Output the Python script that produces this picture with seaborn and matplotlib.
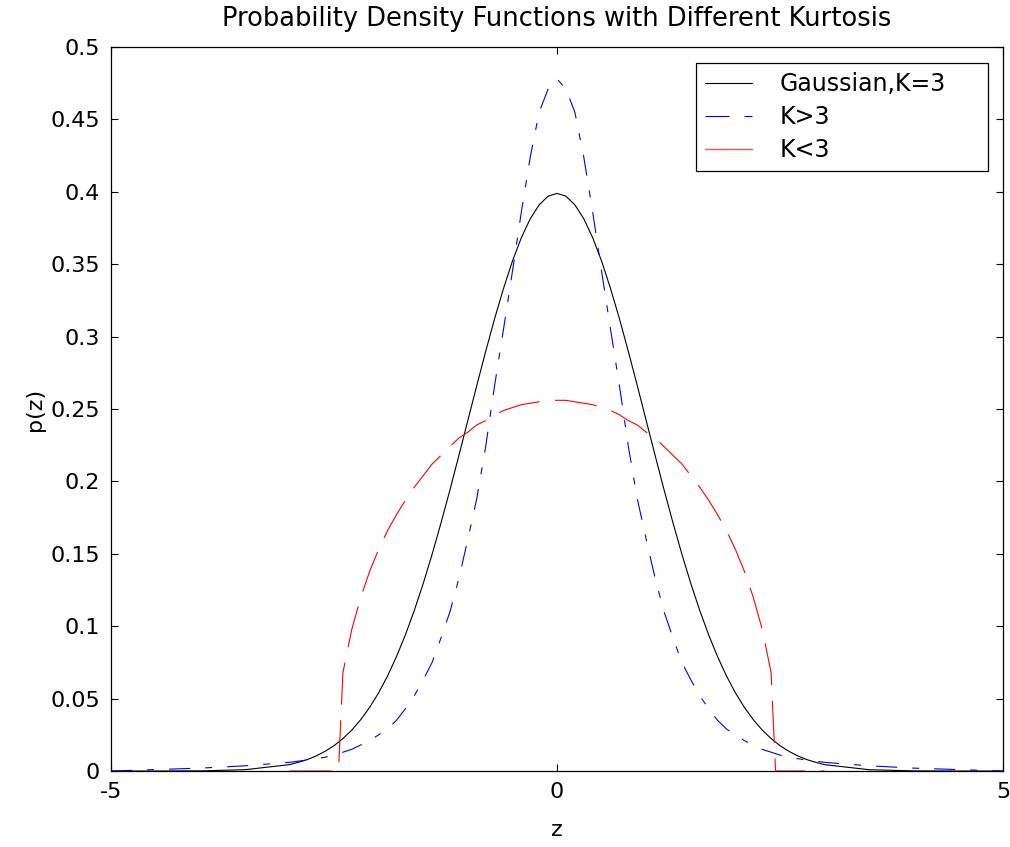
import numpy as np
import pandas as pd
import matplotlib
matplotlib.use("Agg")
import matplotlib.pyplot as plt
from matplotlib.lines import Line2D
import seaborn as sns

# ---- data ----
z_grid = [-5.0, -4.5, -4.0, -3.5,
          -3.0, -2.9, -2.8, -2.7, -2.6, -2.5, -2.4, -2.3, -2.2, -2.1,
          -2.0, -1.9, -1.8, -1.7, -1.6, -1.5, -1.4, -1.3, -1.2, -1.1,
          -1.0, -0.9, -0.8, -0.7, -0.6, -0.5, -0.4, -0.3, -0.2, -0.1,
          0.0,
          0.1, 0.2, 0.3, 0.4, 0.5, 0.6, 0.7, 0.8, 0.9, 1.0,
          1.1, 1.2, 1.3, 1.4, 1.5, 1.6, 1.7, 1.8, 1.9, 2.0,
          2.1, 2.2, 2.3, 2.4, 2.5, 2.6, 2.7, 2.8, 2.9, 3.0,
          3.5, 4.0, 4.5, 5.0]

gauss_vals = [0.0, 0.0, 0.0001, 0.0009,
              0.0044, 0.0060, 0.0079, 0.0104, 0.0136, 0.0175, 0.0224, 0.0283, 0.0355, 0.0440,
              0.0540, 0.0656, 0.0790, 0.0940, 0.1109, 0.1295, 0.1497, 0.1714, 0.1942, 0.2179,
              0.2420, 0.2661, 0.2897, 0.3123, 0.3332, 0.3521, 0.3683, 0.3814, 0.3910, 0.3970,
              0.3989,
              0.3970, 0.3910, 0.3814, 0.3683, 0.3521, 0.3332, 0.3123, 0.2897, 0.2661, 0.2420,
              0.2179, 0.1942, 0.1714, 0.1497, 0.1295, 0.1109, 0.0940, 0.0790, 0.0656, 0.0540,
              0.0440, 0.0355, 0.0283, 0.0224, 0.0175, 0.0136, 0.0104, 0.0079, 0.0060, 0.0044,
              0.0009, 0.0001, 0.0, 0.0]

super_vals = [0.0, 0.001, 0.002, 0.0036,
              0.006, 0.0068, 0.0076, 0.0085, 0.0095, 0.011, 0.013, 0.015, 0.018, 0.021,
              0.025, 0.029, 0.035, 0.043, 0.052, 0.063, 0.075, 0.092, 0.110, 0.133,
              0.160, 0.188, 0.224, 0.266, 0.305, 0.345, 0.386, 0.424, 0.455, 0.471,
              0.478,
              0.471, 0.455, 0.424, 0.386, 0.345, 0.305, 0.266, 0.224, 0.188, 0.160,
              0.133, 0.110, 0.092, 0.075, 0.063, 0.052, 0.043, 0.035, 0.029, 0.025,
              0.021, 0.018, 0.015, 0.013, 0.011, 0.0095, 0.0085, 0.0076, 0.0068, 0.006,
              0.0036, 0.002, 0.001, 0.0]

z_sub = [-3.0, -2.45, -2.4, -2.3, -2.2, -2.1,
         -2.0, -1.9, -1.8, -1.7, -1.6, -1.5, -1.4, -1.3, -1.2, -1.1,
         -1.0, -0.9, -0.8, -0.7, -0.6, -0.5, -0.4, -0.3, -0.2, -0.1,
         0.0,
         0.1, 0.2, 0.3, 0.4, 0.5, 0.6, 0.7, 0.8, 0.9, 1.0,
         1.1, 1.2, 1.3, 1.4, 1.5, 1.6, 1.7, 1.8, 1.9, 2.0,
         2.1, 2.2, 2.3, 2.4, 2.45, 3.0]
sub_vals = [0.0, 0.0, 0.068, 0.098, 0.120, 0.138,
            0.153, 0.166, 0.177, 0.187, 0.196, 0.204, 0.212, 0.218, 0.224, 0.230,
            0.234, 0.239, 0.242, 0.246, 0.249, 0.251, 0.253, 0.254, 0.255, 0.256,
            0.256,
            0.256, 0.255, 0.254, 0.253, 0.251, 0.249, 0.246, 0.242, 0.239, 0.234,
            0.230, 0.224, 0.218, 0.212, 0.204, 0.196, 0.187, 0.177, 0.166, 0.153,
            0.138, 0.120, 0.098, 0.068, 0.0, 0.0]

labels = ["Gaussian,K=3", "K>3", "K<3"]
x_ticks = [-5, 0, 5]
y_ticks = [0, 0.05, 0.1, 0.15, 0.2, 0.25, 0.3, 0.35, 0.4, 0.45, 0.5]
y_ticklabels = ["0", "0.05", "0.1", "0.15", "0.2", "0.25", "0.3", "0.35", "0.4", "0.45", "0.5"]

# ---- plotting ----
sns.set_style("ticks")
plt.rcParams["font.family"] = ["DejaVu Sans"]
plt.rcParams["text.color"] = "black"
plt.rcParams["axes.labelcolor"] = "black"

fig = plt.figure(figsize=(10.10, 8.47), dpi=100)
ax = fig.add_axes([0.1099, 0.0897, 0.8832, 0.8548])

df_g = pd.DataFrame({"z": z_grid, "p": gauss_vals})
df_s = pd.DataFrame({"z": z_grid, "p": super_vals})
df_r = pd.DataFrame({"z": z_sub, "p": sub_vals})

sns.lineplot(data=df_g, x="z", y="p", ax=ax, color="black", lw=0.8, sort=False,
             estimator=None)
sns.lineplot(data=df_s, x="z", y="p", ax=ax, color="blue", lw=0.8, sort=False,
             estimator=None)
sns.lineplot(data=df_r, x="z", y="p", ax=ax, color="red", lw=0.8, sort=False,
             estimator=None)
ax.lines[1].set_dashes((19, 13.5, 6.3, 13.5))
ax.lines[2].set_dashes((38, 14))

ax.set_xlim(-5, 5)
ax.set_ylim(0, 0.5)
ax.set_xticks(x_ticks)
ax.set_xticklabels([str(t) for t in x_ticks])
ax.set_yticks(y_ticks)
ax.set_yticklabels(y_ticklabels)
ax.tick_params(direction="in", length=5, width=0.8, top=True, right=True,
               labelsize=16, pad=8, colors="black")
for s in ax.spines.values():
    s.set_visible(True)
    s.set_linewidth(0.9)
    s.set_color("black")

ax.set_xlabel("z", fontsize=16, labelpad=13, color="black")
ax.set_ylabel("p(z)", fontsize=16, labelpad=4, color="black")
ax.set_title("Probability Density Functions with Different Kurtosis", fontsize=18.5,
             pad=15, color="black")

handles = [Line2D([], [], color="black", lw=0.8),
           Line2D([], [], color="blue", lw=0.8, dashes=(21.6, 13.5, 7.2, 13.5)),
           Line2D([], [], color="#ff5050", lw=1.0)]
leg = ax.legend(handles, labels, loc="upper left", mode="expand",
                bbox_to_anchor=(0.6558, 0.5, 0.3274, 0.4779), bbox_transform=ax.transAxes,
                fontsize=17, frameon=True,
                fancybox=False, edgecolor="black", framealpha=1,
                handlelength=2.0, handletextpad=1.15, borderpad=0.38,
                labelspacing=0.38, borderaxespad=0.0, labelcolor="black")
leg.get_frame().set_linewidth(0.9)

fig.savefig("out.png", dpi=100)
